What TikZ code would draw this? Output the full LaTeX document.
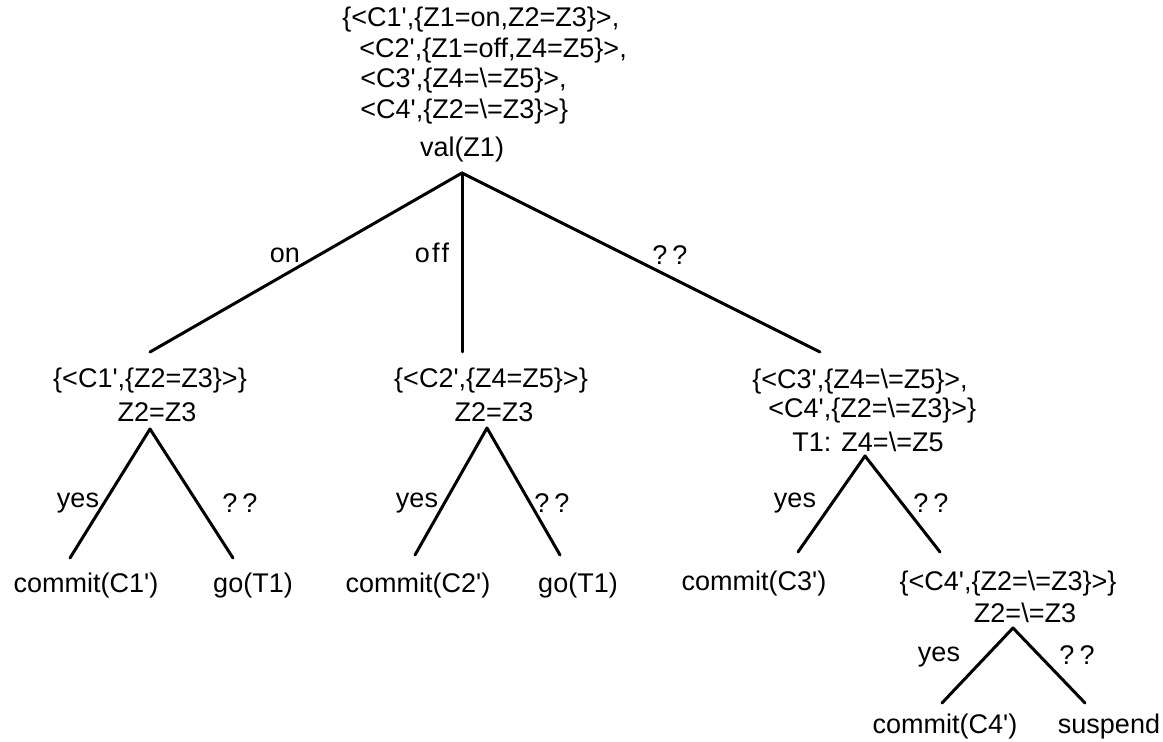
\documentclass[tikz,border=0pt]{standalone}
\usepackage{fontspec}
\setmainfont{Liberation Sans}[Ligatures=TeXOff]
\newcommand\bsl{\textbackslash}
\newcommand\qq{?\kern2.5pt?}
\begin{document}
\begin{tikzpicture}[x=0.5pt,y=-0.5pt,
  every node/.style={font=\fontsize{13.5}{16}\selectfont, inner sep=0pt},
  txt/.style={anchor=center},
  txtw/.style={anchor=west},
  edge/.style={line width=1.5pt, line cap=round, line join=round}]
\useasboundingbox[fill=white] (0,0) rectangle (1163,742);

% root
\node[txtw] (r1) at (342,20) {\{<C1',\{Z1=on,Z2=Z3\}>,};
\node[txtw] (r2) at (359,51) {<C2',\{Z1=off,Z4=Z5\}>,};
\node[txtw] (r3) at (360,81) {<C3',\{Z4=\bsl=Z5\}>,};
\node[txtw] (r4) at (360,112) {<C4',\{Z2=\bsl=Z3\}>\}};
\node[txt] (rq) at (462,150) {val(Z1)};
\coordinate (ra) at (462,173);

% level 1 ends
\coordinate (e1) at (150,352);
\coordinate (e2) at (462,352);
\coordinate (e3) at (820,352);
\draw[edge] (ra) -- (e1);
\draw[edge] (ra) -- (e2);
\draw[edge] (ra) -- (e3);
\node[txt] (lon) at (285,255) {on};
\node[txt] (loff) at (432,253) {o\kern1pt f\kern1pt f};
\node[txt] (lq) at (670,255) {\qq};

% subtree 1
\node[txt] (n1) at (150,381) {\{<C1',\{Z2=Z3\}>\}};
\node[txt] (n1q) at (157,412) {Z2=Z3};
\coordinate (a1) at (150,429);
\coordinate (a1l) at (70,558);
\coordinate (a1r) at (233,558);
\draw[edge] (a1l) -- (a1) -- (a1r);
\node[txt] (y1) at (78,503) {yes};
\node[txt] (q1) at (240,503) {\qq};
\node[txt] (c1) at (86,586) {commit(C1')};
\node[txt] (g1) at (253,586) {go(T1)};

% subtree 2
\node[txt] (n2) at (491,381) {\{<C2',\{Z4=Z5\}>\}};
\node[txt] (n2q) at (494,412) {Z2=Z3};
\coordinate (a2) at (487,428);
\coordinate (a2l) at (415,555);
\coordinate (a2r) at (560,555);
\draw[edge] (a2l) -- (a2) -- (a2r);
\node[txt] (y2) at (417,503) {yes};
\node[txt] (q2) at (552,503) {\qq};
\node[txt] (c2) at (418,586) {commit(C2')};
\node[txt] (g2) at (578,586) {go(T1)};

% subtree 3
\node[txtw] (n3a) at (752,382) {\{<C3',\{Z4=\bsl=Z5\}>,};
\node[txtw] (n3b) at (768,411) {<C4',\{Z2=\bsl=Z3\}>\}};
\node[txt] (n3q) at (868,442) {T1: Z4=\bsl=Z5};
\coordinate (a3) at (865,456);
\coordinate (a3l) at (798,552);
\coordinate (a3r) at (940,552);
\draw[edge] (a3l) -- (a3) -- (a3r);
\node[txt] (y3) at (795,503) {yes};
\node[txt] (q3) at (931,503) {\qq};
\node[txt] (c3) at (754,584) {commit(C3')};

% subtree 4
\node[txt] (n4) at (1008,584) {\{<C4',\{Z2=\bsl=Z3\}>\}};
\node[txt] (n4q) at (1025,613) {Z2=\bsl=Z3};
\coordinate (a4) at (1013,628);
\coordinate (a4l) at (942,703);
\coordinate (a4r) at (1085,703);
\draw[edge] (a4l) -- (a4) -- (a4r);
\node[txt] (y4) at (939,657) {yes};
\node[txt] (q4) at (1077,655) {\qq};
\node[txt] (c4) at (945,727) {commit(C4')};
\node[txt] (s4) at (1109,727) {suspend};
\end{tikzpicture}
\end{document}
